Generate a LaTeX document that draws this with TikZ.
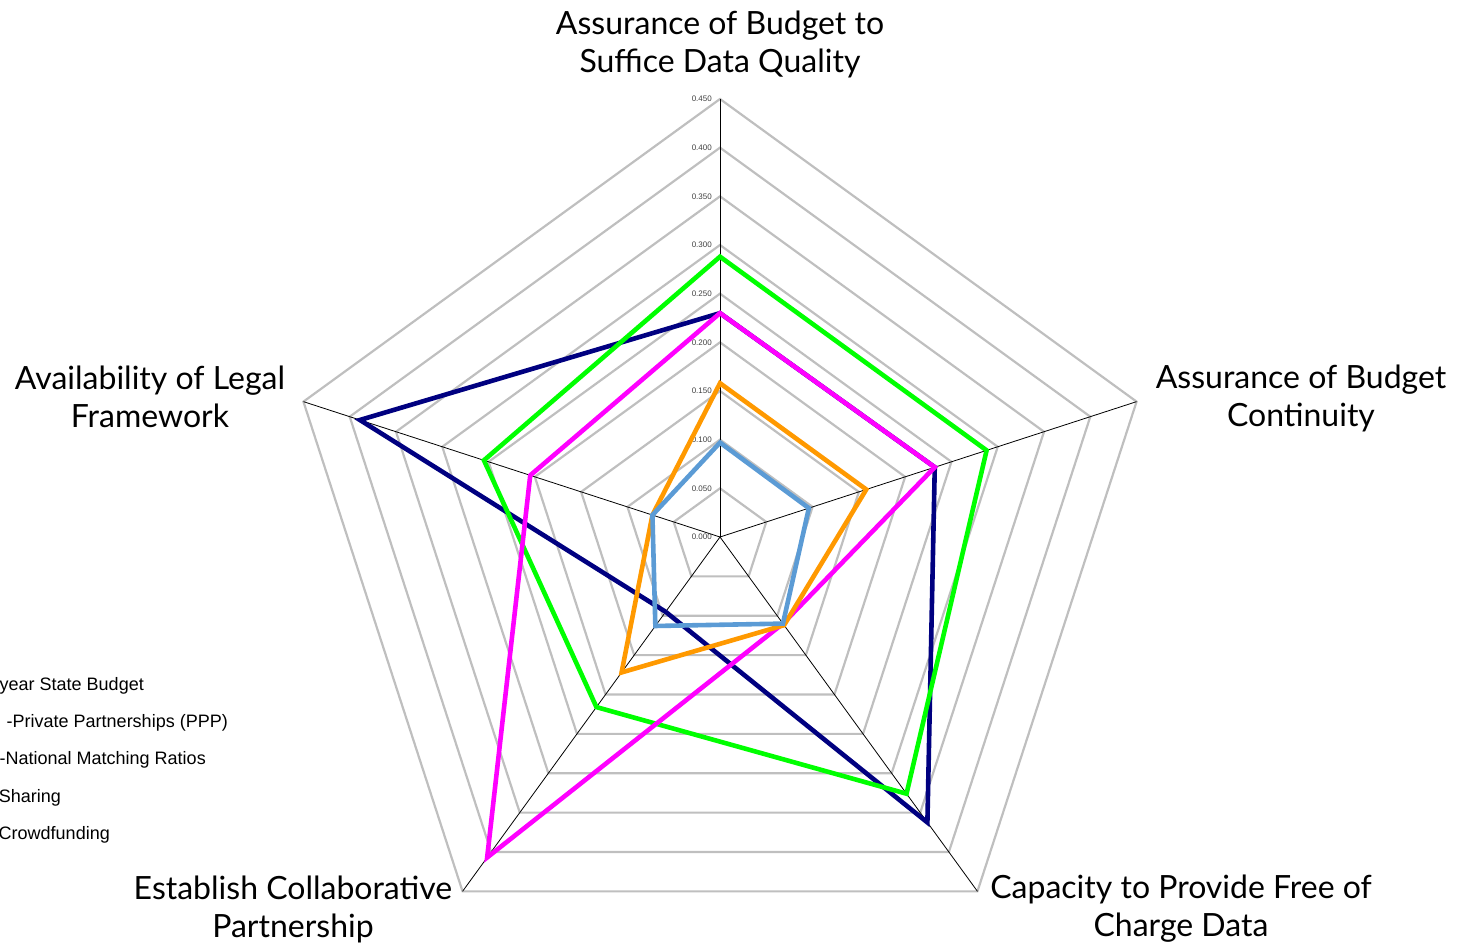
\documentclass[tikz,border=0pt]{standalone}
\usepackage{fontspec}
\setmainfont{Lato}
\newfontfamily\arialfont{Liberation Sans}
\usepackage{tikz}
\usetikzlibrary{positioning}
\definecolor{gridgray}{HTML}{BFBFBF}
\definecolor{navyline}{HTML}{000080}
\definecolor{greenline}{HTML}{00FF00}
\definecolor{magentaline}{HTML}{FF00FF}
\definecolor{orangeline}{HTML}{FF9900}
\definecolor{blueline}{HTML}{5B9BD5}
\definecolor{ticktext}{HTML}{404040}
\newcommand{\unitr}{973.33}
\newcommand{\labelsize}{\fontsize{32}{38}\selectfont\lineskiplimit=-20pt\relax\lineskip=0pt\relax}

\begin{document}
\begin{tikzpicture}[x=1pt, y=1pt,
   ring/.style={draw=gridgray, line width=2.2pt},
   spoke/.style={draw=black, line width=0.8pt},
   series/.style={line width=4.6pt},
   axislabel/.style={font=\labelsize, align=center, inner sep=0pt},
   tick/.style={font=\arialfont\fontsize{8}{8}\selectfont, text=ticktext, anchor=east, inner sep=0pt},
   legendentry/.style={font=\arialfont\fontsize{18}{18}\selectfont, anchor=east, inner sep=0pt}]
   \useasboundingbox (0,0) rectangle (1458,943);
   \clip (0,0) rectangle (1458,943);
   \coordinate (O) at (720,406);

   \begin{scope}[shift={(O)}]
    % rings every 0.050
    \foreach \k in {1,...,9}
      \draw[ring] (90:{\k*48.667}) -- (18:{\k*48.667}) -- (-54:{\k*48.667})
         -- (-126:{\k*48.667}) -- (162:{\k*48.667}) -- cycle;
    \foreach \ang/\name in {90/a, 18/b, -54/c, -126/d, 162/e} {
      \coordinate (\name) at (\ang:438);
      \draw[spoke] (O) -- (\name);
    }
    \foreach \k/\txt in {0/0.000, 1/0.050, 2/0.100, 3/0.150, 4/0.200,
                         5/0.250, 6/0.300, 7/0.350, 8/0.400, 9/0.450}
      \node[tick] (t\k) at (-8,{\k*48.667}) {\txt};
    % series
    \foreach \va/\vb/\vc/\vd/\ve/\col in {
        0.230/0.232/0.3625/0.095/0.389/navyline,
        0.288/0.288/0.326/0.216/0.255/greenline,
        0.230/0.232/0.110/0.407/0.205/magentaline,
        0.158/0.158/0.112/0.172/0.073/orangeline,
        0.097/0.096/0.110/0.113/0.073/blueline}
      \draw[series, \col] (90:{\va*\unitr}) -- (18:{\vb*\unitr}) -- (-54:{\vc*\unitr})
         -- (-126:{\vd*\unitr}) -- (162:{\ve*\unitr}) -- cycle;
   \end{scope}

   \node[axislabel] (lblA) at (720,899) {Assurance of Budget to\\Suffice Data Quality};
   \node[axislabel] (lblB) at (1301,545) {Assurance of Budget\\Continuity};
   \node[axislabel] (lblC) at (1181,34) {Capacity to Provide Free of\\Charge Data};
   \node[axislabel] (lblD) at (293,34) {Establish Collaborative\\Partnership};
   \node[axislabel] (lblE) at (150,546) {Availability of Legal\\Framework};

   \node[legendentry] (leg1) at (144,257) {year State Budget};
   \node[legendentry] (leg2) at (228,220) {-Private Partnerships (PPP)};
   \node[legendentry] (leg3) at (206,183) {-National Matching Ratios};
   \node[legendentry] (leg4) at (61,145) {Sharing};
   \node[legendentry] (leg5) at (110,108) {Crowdfunding};
\end{tikzpicture}
\end{document}
